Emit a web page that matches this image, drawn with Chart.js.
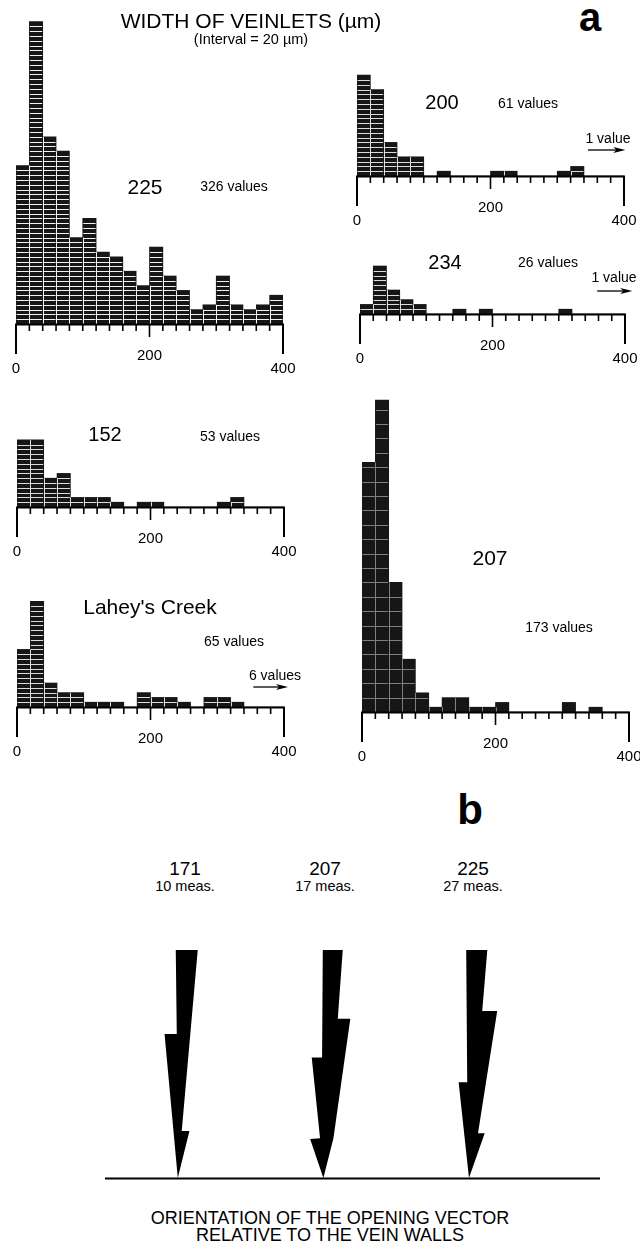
<!DOCTYPE html>
<html>
<head>
<meta charset="utf-8">
<script src="https://cdn.jsdelivr.net/npm/chart.js@4.4.1/dist/chart.umd.min.js"></script>
<style>
  html, body { margin: 0; padding: 0; background: #fff; }
  #page { position: relative; width: 640px; height: 1252px; overflow: hidden; background: #fff;
          font-family: "Liberation Sans", Arial, Helvetica, sans-serif; color: #000; }
  #page canvas { position: absolute; }
  .t { position: absolute; white-space: nowrap; line-height: 1; transform: translate(-50%, -50%); }
</style>
</head>
<body>
<div id="page"></div>
<script>
// ---------------- DATA ----------------
// class intervals of veinlet width (µm), interval = 20 µm
const binStart = [0, 20, 40, 60, 80, 100, 120, 140, 160, 180, 200, 220, 240, 260, 280, 300, 320, 340, 360, 380];
const widthTicks = [0, 200, 400];

const sampleNames  = ['225', '200', '234', '152', "Lahey's Creek", '207'];
const sampleTotals = [326, 61, 26, 53, 65, 173];
const beyondAxis   = [0, 1, 1, 0, 6, 0];

const counts225   = [33, 63, 39, 36, 18, 22, 15, 14, 11, 8, 16, 10, 7, 3, 4, 10, 4, 3, 4, 6];
const counts200   = [21, 18, 7, 4, 4, 0, 1, 0, 0, 0, 1, 1, 0, 0, 0, 1, 2, 0, 0, 0];
const counts234   = [2, 10, 5, 3, 2, 0, 0, 1, 0, 1, 0, 0, 0, 0, 0, 1, 0, 0, 0, 0];
const counts152   = [14, 14, 6, 7, 2, 2, 2, 1, 0, 1, 1, 0, 0, 0, 0, 1, 2, 0, 0, 0];
const countsLahey = [12, 22, 5, 3, 3, 1, 1, 1, 0, 3, 2, 2, 1, 0, 2, 2, 1, 0, 0, 0];
const counts207   = [52, 65, 27, 11, 4, 1, 3, 3, 1, 1, 2, 0, 0, 0, 0, 2, 0, 1, 0, 0];

// part b: opening vectors
const vectorGroups = ['171', '207', '225'];
const vectorMeasurements = [10, 17, 27];
// outline of each composite vector: [lateral offset, length along vector (0 = tip, 100 = tail)]
const vector171 = [[-1.4, 100], [13.7, 100], [2.7, 20.6], [8.0, 20.6], [0, 0], [-9.1, 63.2], [-0.7, 63.2]];
const vector207 = [[-0.4, 100], [13.3, 100], [9.9, 69.8], [18.5, 69.8], [6.9, 17.4], [0, 0], [-9.1, 17.1], [-2.3, 17.4], [-8.0, 52.8], [-0.9, 52.8]];
const vector225 = [[-1.9, 100], [12.6, 100], [9.1, 73.2], [19.4, 73.2], [6.2, 19.6], [10.8, 19.6], [0, 0], [-7.1, 42], [-1.2, 42]];

// ---------------- LAYOUT / STYLE ----------------
const FONT = '"Liberation Sans", Arial, Helvetica, sans-serif';
const BIN = 20;
const UNIT_PX = 4.8;
const PAD = 16;
const AXIS_H = 60;
const page = document.getElementById('page');

const histLayout = [
  { counts: counts225,   x0: 16,  x1: 283, base: 324, h: 312, name: [145, 186, 21], total: [234, 186], step: 1, line: 'rgba(255,255,255,0.95)' },
  { counts: counts200,   x0: 357, x1: 624, base: 176, h: 110, name: [442, 102, 20], total: [528, 103], step: 1, line: 'rgba(255,255,255,0.85)',
    arrow: { from: 346, to: 402, rise: 26 }, beyond: [608, 138] },
  { counts: counts234,   x0: 360, x1: 625, base: 314, h: 60,  name: [445, 262, 20], total: [548, 262], step: 1, line: 'rgba(255,255,255,0.85)',
    arrow: { from: 358, to: 411, rise: 23 }, beyond: [614, 277] },
  { counts: counts152,   x0: 17,  x1: 284, base: 507, h: 80,  name: [105, 434, 20], total: [230, 436], step: 1, line: 'rgba(255,255,255,0.85)' },
  { counts: countsLahey, x0: 17,  x1: 284, base: 707, h: 120, name: [150, 606, 21], total: [234, 641], step: 1, line: 'rgba(255,255,255,0.85)',
    arrow: { from: 354, to: 406, rise: 20 }, beyond: [275, 675] },
  { counts: counts207,   x0: 362, x1: 629, base: 712, h: 320, name: [490, 557, 21], total: [559, 627], step: 3, line: 'rgba(255,255,255,0.45)' }
];

function addText(txt, x, y, size, weight) {
  const d = document.createElement('div');
  d.className = 't';
  d.textContent = txt;
  d.style.left = x + 'px';
  d.style.top = y + 'px';
  d.style.fontSize = size + 'px';
  if (weight) d.style.fontWeight = weight;
  page.appendChild(d);
}

// white lines marking each counted value inside the bars
const unitLinesPlugin = {
  id: 'unitLines',
  afterDatasetsDraw(chart, args, opts) {
    const ctx = chart.ctx, ys = chart.scales.y;
    const meta = chart.getDatasetMeta(0);
    const vals = chart.data.datasets[0].data.map(d => d.y);
    ctx.save();
    ctx.strokeStyle = opts.color;
    ctx.lineWidth = 1;
    meta.data.forEach((bar, i) => {
      const c = vals[i];
      if (!c) return;
      const p = bar.getProps(['x', 'width', 'base'], true);
      const l = p.x - p.width / 2, r = p.x + p.width / 2;
      ctx.beginPath();
      for (let k = opts.step; k < c; k += opts.step) {
        const yy = Math.round(ys.getPixelForValue(k)) + 0.5;
        ctx.moveTo(l + 0.5, yy); ctx.lineTo(r - 0.5, yy);
      }
      if (i > 0 && vals[i - 1]) {
        const top = ys.getPixelForValue(Math.min(c, vals[i - 1]));
        const xx = Math.round(l) + 0.5;
        ctx.moveTo(xx, p.base); ctx.lineTo(xx, top);
      }
      ctx.stroke();
    });
    ctx.restore();
  }
};

// axis line with tick marks at every class boundary
const widthAxisPlugin = {
  id: 'widthAxis',
  afterDraw(chart) {
    const ctx = chart.ctx, xs = chart.scales.x;
    const y0 = chart.chartArea.bottom;
    ctx.save();
    ctx.strokeStyle = '#000';
    ctx.lineCap = 'butt';
    ctx.lineWidth = 2;
    ctx.beginPath();
    ctx.moveTo(xs.getPixelForValue(0) - 1, y0 + 0.5);
    ctx.lineTo(xs.getPixelForValue(400) + 1, y0 + 0.5);
    ctx.stroke();
    binStart.concat([400]).forEach(v => {
      const x = xs.getPixelForValue(v);
      const end = (v === widthTicks[0] || v === widthTicks[2]);
      const len = end ? 30 : (v === widthTicks[1] ? 13 : 7);
      ctx.lineWidth = end ? 2 : 1.6;
      ctx.beginPath();
      ctx.moveTo(x, y0); ctx.lineTo(x, y0 + len);
      ctx.stroke();
    });
    ctx.restore();
  }
};

// arrow for values beyond the end of the axis
const overflowPlugin = {
  id: 'overflow',
  afterDraw(chart, args, opts) {
    if (!opts || opts.from === undefined) return;
    const ctx = chart.ctx, xs = chart.scales.x;
    const y = chart.chartArea.bottom - opts.rise;
    const a = xs.getPixelForValue(opts.from), b = xs.getPixelForValue(opts.to);
    ctx.save();
    ctx.strokeStyle = '#000'; ctx.fillStyle = '#000';
    ctx.lineWidth = 1.3;
    ctx.beginPath(); ctx.moveTo(a, y); ctx.lineTo(b - 8, y); ctx.stroke();
    ctx.beginPath();
    ctx.moveTo(b, y); ctx.lineTo(b - 12, y - 3); ctx.lineTo(b - 9, y); ctx.lineTo(b - 12, y + 3);
    ctx.closePath(); ctx.fill();
    ctx.restore();
  }
};

histLayout.forEach((L, idx) => {
  const W = L.x1 - L.x0 + 2 * PAD, H = L.h + AXIS_H;
  const cv = document.createElement('canvas');
  cv.width = W; cv.height = H;
  cv.style.width = W + 'px'; cv.style.height = H + 'px';
  cv.style.left = (L.x0 - PAD) + 'px';
  cv.style.top = (L.base - L.h) + 'px';
  page.appendChild(cv);

  new Chart(cv, {
    type: 'bar',
    data: {
      datasets: [{
        data: L.counts.map((c, i) => ({ x: binStart[i] + BIN / 2, y: c })),
        backgroundColor: '#161616',
        borderWidth: 0,
        barPercentage: 1,
        categoryPercentage: 1
      }]
    },
    options: {
      responsive: false,
      animation: false,
      events: [],
      devicePixelRatio: 1,
      layout: { padding: { left: PAD, right: PAD, top: 0, bottom: 0 } },
      plugins: {
        legend: { display: false },
        tooltip: { enabled: false },
        unitLines: { step: L.step, color: L.line },
        overflow: L.arrow ? L.arrow : {}
      },
      scales: {
        x: {
          type: 'linear', min: 0, max: 400, offset: false,
          grid: { display: false, drawTicks: false },
          border: { display: false },
          ticks: {
            stepSize: 200, autoSkip: false, maxRotation: 0, padding: 25.5, color: '#000',
            font: { family: FONT, size: 15, lineHeight: 13 / 15 },
            callback: (v) => (v === widthTicks[1] ? String(v) : ['', String(v)])
          },
          afterFit: (s) => { s.height = AXIS_H; s.paddingLeft = 0; s.paddingRight = 0; }
        },
        y: { display: false, min: 0, max: L.h / UNIT_PX }
      }
    },
    plugins: [unitLinesPlugin, widthAxisPlugin, overflowPlugin]
  });

  addText(sampleNames[idx], L.name[0], L.name[1], L.name[2]);
  addText(sampleTotals[idx] + ' values', L.total[0], L.total[1], 14);
  if (beyondAxis[idx]) {
    addText(beyondAxis[idx] + (beyondAxis[idx] === 1 ? ' value' : ' values'), L.beyond[0], L.beyond[1], 14);
  }
});

// titles part a
addText('WIDTH OF VEINLETS (\u00b5m)', 251, 20, 21);
addText('(Interval = 20 \u00b5m)', 251, 39, 14.5);
addText('a', 590, 17, 40, 'bold');

// ---------------- PART b ----------------
addText('b', 470, 810, 42, 'bold');
const vectors = [vector171, vector207, vector225];
const bLeft = 105, bWidth = 495, bTop = 950, bHeight = 228;
const groupLabelX = [185, 325, 473];
vectorGroups.forEach((g, i) => {
  addText(g, groupLabelX[i], 868, 19);
  addText(vectorMeasurements[i] + ' meas.', groupLabelX[i], 886, 14.5);
});

const polyFillPlugin = {
  id: 'polyFill',
  afterDatasetsDraw(chart) {
    const ctx = chart.ctx;
    ctx.save();
    chart.data.datasets.forEach((ds, di) => {
      const pts = chart.getDatasetMeta(di).data;
      ctx.fillStyle = ds.backgroundColor;
      ctx.beginPath();
      pts.forEach((p, k) => { if (k === 0) ctx.moveTo(p.x, p.y); else ctx.lineTo(p.x, p.y); });
      ctx.closePath();
      ctx.fill();
    });
    ctx.restore();
  }
};
const wallPlugin = {
  id: 'wall',
  afterDraw(chart) {
    const ctx = chart.ctx, xs = chart.scales.x, ys = chart.scales.y;
    const y = ys.getPixelForValue(0);
    ctx.save();
    ctx.strokeStyle = '#000'; ctx.lineWidth = 2;
    ctx.beginPath(); ctx.moveTo(xs.left, y + 0.5); ctx.lineTo(xs.right, y + 0.5); ctx.stroke();
    ctx.restore();
  }
};

const cb = document.createElement('canvas');
cb.width = bWidth; cb.height = bHeight + 3;
cb.style.width = bWidth + 'px'; cb.style.height = (bHeight + 3) + 'px';
cb.style.left = bLeft + 'px'; cb.style.top = bTop + 'px';
page.appendChild(cb);
new Chart(cb, {
  type: 'scatter',
  data: {
    datasets: vectors.map((v, gi) => ({
      label: vectorGroups[gi],
      data: v.map(([dx, h]) => ({ x: (gi + 1) * 100 + dx, y: h })),
      pointRadius: 0, showLine: false, backgroundColor: '#000'
    }))
  },
  options: {
    responsive: false, animation: false, events: [], devicePixelRatio: 1,
    layout: { padding: { left: 0, right: 0, top: 0, bottom: 3 } },
    plugins: { legend: { display: false }, tooltip: { enabled: false } },
    scales: {
      x: { type: 'linear', min: 50, max: 390, display: false },
      y: { type: 'linear', min: 0, max: 100, display: false }
    }
  },
  plugins: [polyFillPlugin, wallPlugin]
});

addText('ORIENTATION OF THE OPENING VECTOR', 330, 1218, 18);
addText('RELATIVE TO THE VEIN WALLS', 330, 1235, 18);
</script>
</body>
</html>
